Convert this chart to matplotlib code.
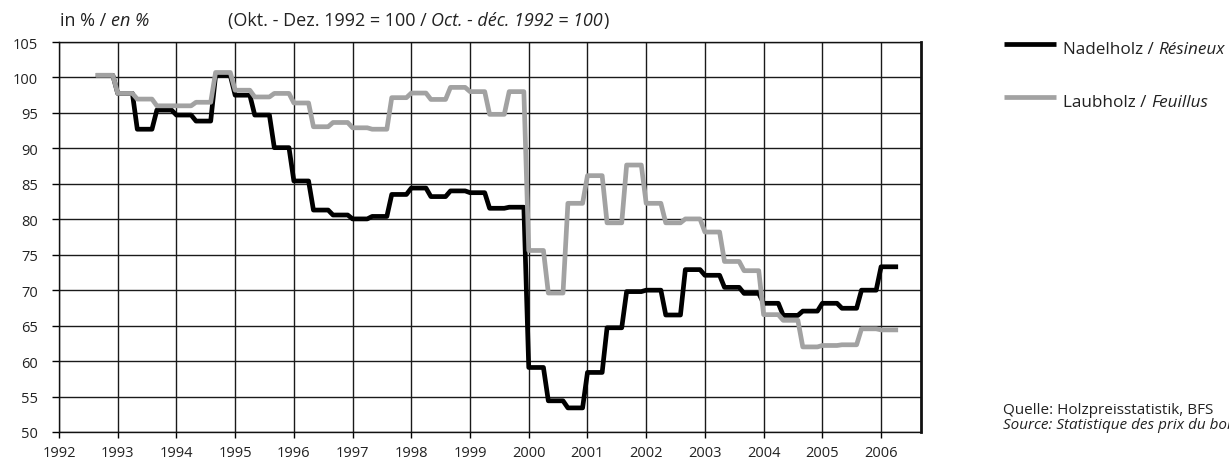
import numpy as np
import matplotlib.pyplot as plt
from matplotlib.lines import Line2D

plt.rcParams['font.family'] = ['Open Sans', 'DejaVu Sans']

# price index per four-month period, Sep-Dec 1992 .. Jan-Apr 2006
nadelholz = [100.3,
             97.75, 92.7, 95.4,    # 1993
             94.7, 93.85, 100.3,   # 1994
             97.5, 94.7, 90.1,     # 1995
             85.4, 81.3, 80.6,     # 1996
             80.05, 80.4, 83.5,    # 1997
             84.4, 83.2, 84.0,     # 1998
             83.75, 81.55, 81.7,   # 1999
             59.1, 54.4, 53.4,     # 2000
             58.4, 64.7, 69.8,     # 2001
             70.0, 66.5, 72.9,     # 2002
             72.1, 70.4, 69.55,    # 2003
             68.15, 66.45, 67.05,  # 2004
             68.15, 67.45, 70.0,   # 2005
             73.3]
laubholz = [100.3,
            97.75, 96.95, 96.0,
            96.0, 96.5, 100.7,
            98.2, 97.25, 97.75,
            96.4, 93.05, 93.65,
            92.9, 92.7, 97.15,
            97.8, 96.9, 98.6,
            98.0, 94.8, 98.0,
            75.6, 69.6, 82.25,
            86.15, 79.5, 87.65,
            82.25, 79.5, 80.05,
            78.2, 74.05, 72.75,
            66.55, 65.75, 62.0,
            62.2, 62.3, 64.55,
            64.4]
years = list(range(1992, 2007))

# monthly series: each period value holds for four months
first_month = 1992 + 8 / 12
n_months = len(nadelholz) * 4
t = first_month + np.arange(n_months) / 12
nadel_m = np.repeat(nadelholz, 4)
laub_m = np.repeat(laubholz, 4)

W, H = 1229, 464
fig = plt.figure(figsize=(W / 100, H / 100), dpi=100)
ax = fig.add_axes([59 / W, 1 - 433 / H, (921 - 59) / W, (433 - 43) / H])

ax.plot(t, nadel_m, color='black', lw=3.4, zorder=3)
ax.plot(t, laub_m, color='#a2a2a2', lw=3.4, zorder=4)

ax.set_xlim(1992, 2006.68)
ax.set_ylim(50, 105)
ax.set_xticks(years)
ax.set_yticks(range(50, 106, 5))
ax.grid(True, color='#1a1a1a', lw=1)
ax.set_axisbelow(True)
for s in ax.spines.values():
    s.set_color('#111111')
    s.set_linewidth(1)
ax.spines['right'].set_linewidth(2)
ax.tick_params(axis='y', direction='out', length=5, width=1, pad=10,
               labelsize=10.5, labelcolor='#222222')
ax.tick_params(axis='x', direction='out', length=4.5, width=1, pad=5,
               labelsize=10.5, labelcolor='#222222')

txt = dict(fontsize=13, color='#222222', va='bottom', ha='left')

# header: unit and base period
t1 = fig.text(60 / W, 1 - 30 / H, 'in % / ', **txt)
fig.add_artist(plt.Annotation('en %', xy=(1, 0), xycoords=t1, style='italic', **txt))
t2 = fig.text(228 / W, 1 - 30 / H, '(Okt. - Dez. 1992 = 100 / ', **txt)
t3 = plt.Annotation('Oct. - déc. 1992 = 100', xy=(1, 0), xycoords=t2,
                    style='italic', **txt)
fig.add_artist(t3)
fig.add_artist(plt.Annotation(')', xy=(1, 0), xycoords=t3, **txt))

# legend
leg = dict(fontsize=12.3, color='#222222', va='center', ha='left')
for y, color, de, fr in [(45, 'black', 'Nadelholz / ', 'Résineux'),
                         (98, '#a2a2a2', 'Laubholz / ', 'Feuillus')]:
    fig.add_artist(Line2D([1004 / W, 1056 / W], [1 - y / H] * 2,
                          color=color, lw=3.4, solid_capstyle='butt'))
    a = fig.text(1063 / W, 1 - (y + 5) / H, de, **leg)
    fig.add_artist(plt.Annotation(fr, xy=(1, 0.5), xycoords=a,
                                  style='italic', **leg))

# source, the French line runs off the right edge
fig.text(1003 / W, 1 - 411 / H, 'Quelle: Holzpreisstatistik, BFS',
         fontsize=11, color='#222222', va='center', ha='left')
fig.text(1003 / W, 1 - 426 / H, 'Source: Statistique des prix du bois, OFS',
         fontsize=11, color='#222222', va='center', ha='left', style='italic')

fig.savefig('out.png', dpi=100)
